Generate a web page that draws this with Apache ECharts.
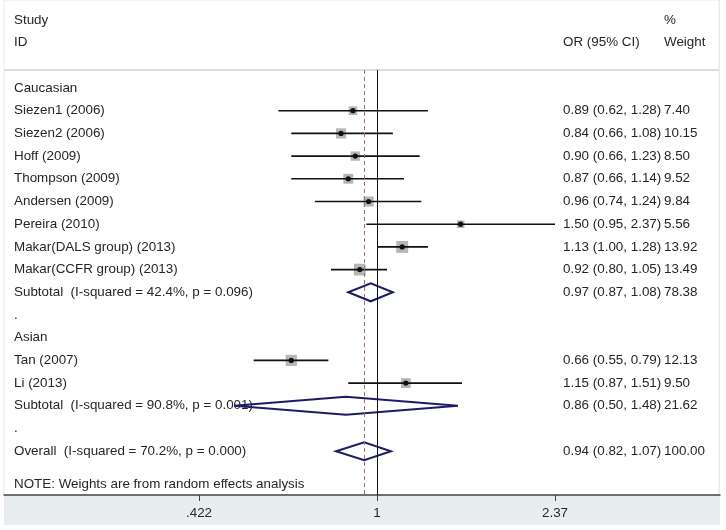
<!DOCTYPE html>
<html><head><meta charset="utf-8">
<script src="https://cdn.jsdelivr.net/npm/echarts@6/dist/echarts.min.js"></script>
<style>html,body{margin:0;padding:0;background:#fff}#c{width:726px;height:530px}</style>
</head><body><div id="c"></div>
<script>
// ---- data ----
const rowLabels = ["Caucasian","Siezen1 (2006)","Siezen2 (2006)","Hoff (2009)","Thompson (2009)","Andersen (2009)","Pereira (2010)","Makar(DALS group) (2013)","Makar(CCFR group) (2013)","Subtotal  (I-squared = 42.4%, p = 0.096)",".","Asian","Tan (2007)","Li (2013)","Subtotal  (I-squared = 90.8%, p = 0.001)",".","Overall  (I-squared = 70.2%, p = 0.000)"];
const studyRows = [1,2,3,4,5,6,7,8,12,13];
const studyOR   = [0.89,0.84,0.90,0.87,0.96,1.50,1.13,0.92,0.66,1.15];
const studyLo   = [0.62,0.66,0.66,0.66,0.74,0.95,1.00,0.80,0.55,0.87];
const studyHi   = [1.28,1.08,1.23,1.14,1.24,2.37,1.28,1.05,0.79,1.51];
const studyW    = [7.40,10.15,8.50,9.52,9.84,5.56,13.92,13.49,12.13,9.50];
const poolRows = [9,14,16];
const poolOR   = [0.97,0.86,0.94];
const poolLo   = [0.87,0.50,0.82];
const poolHi   = [1.08,1.48,1.07];
const poolW    = [78.38,21.62,100.00];
const overallOR = 0.94;
const tickValues = [0.422,1,2.37];
const tickLabels = [".422","1","2.37"];
const headerLeft = ["Study","ID"];
const headerCI = "OR (95% CI)";
const headerW = ["%","Weight"];
const noteText = "NOTE: Weights are from random effects analysis";

// ---- layout ----
const PX_ROW0 = 88, ROWH = 22.7, X_ONE = 377, PX_PER_LN = 206.3;
const GL = 4, GR = 720, GT = 70, GB = 495;
const xMin = (GL - X_ONE)/PX_PER_LN, xMax = (GR - X_ONE)/PX_PER_LN;
const yMin = (GT - PX_ROW0)/ROWH, yMax = (GB - PX_ROW0)/ROWH;
const X_TXT = 14, X_CI = 563, X_W = 664;
const FF = '"Liberation Sans", Arial, sans-serif';
const FONT = '13.4px ' + FF;
const TXTC = '#262626';
const NOTE_ROW = 17.45;

const ln = Math.log;
const studyData = studyOR.map((v,i)=>[ln(v), ln(studyLo[i]), ln(studyHi[i]), studyRows[i], studyW[i]]);
const poolData = poolOR.map((v,i)=>[ln(v), ln(poolLo[i]), ln(poolHi[i]), poolRows[i], poolW[i]]);
const labelData = rowLabels.map((t,i)=>[0,i,t]);
const ciData = studyOR.map((v,i)=>[0,studyRows[i], v.toFixed(2)+" ("+studyLo[i].toFixed(2)+", "+studyHi[i].toFixed(2)+")", studyW[i].toFixed(2)])
  .concat(poolOR.map((v,i)=>[0,poolRows[i], v.toFixed(2)+" ("+poolLo[i].toFixed(2)+", "+poolHi[i].toFixed(2)+")", poolW[i].toFixed(2)]));

function txt(x,y,s){return {type:'text',style:{x:x,y:y,text:s,font:FONT,fill:TXTC,textVerticalAlign:'middle'}};}

const chart = echarts.init(document.getElementById('c'), null, {renderer:'canvas'});
chart.setOption({
  animation:false,
  backgroundColor:'#fff',
  graphic:[
    {type:'rect',shape:{x:4,y:0,width:716,height:525},style:{fill:'#e8eef0'},z:-10,silent:true},
    {type:'rect',shape:{x:4,y:0,width:715,height:495},style:{fill:'#fff',stroke:'#e4e8ea',lineWidth:1},z:-9,silent:true},
    {type:'line',shape:{x1:4,y1:70,x2:719,y2:70},style:{stroke:'#dcdcdc',lineWidth:2},z:-8,silent:true}
  ],
  grid:{left:GL,top:GT,width:GR-GL,height:GB-GT,containLabel:false},
  xAxis:{type:'value',min:xMin,max:xMax,
    splitLine:{show:false},
    axisLine:{show:true,onZero:false,lineStyle:{color:'#444',width:1.5}},
    axisTick:{show:true,length:6,lineStyle:{color:'#444'},customValues:tickValues.map(v=>ln(v))},
    axisLabel:{show:true,customValues:tickValues.map(v=>ln(v)),margin:12,color:TXTC,fontSize:13.4,fontFamily:FF,
      formatter:function(v){let b=0;tickValues.forEach((t,i)=>{if(Math.abs(ln(t)-v)<Math.abs(ln(tickValues[b])-v))b=i;});return tickLabels[b];}}
  },
  yAxis:{type:'value',inverse:true,min:yMin,max:yMax,show:false},
  series:[
    {type:'custom',name:'lines',data:[[0,0]],clip:false,z:1,
      renderItem:function(){return {type:'group',children:[]};},
      markLine:{symbol:'none',silent:true,label:{show:false},
        data:[
          {xAxis:0,lineStyle:{color:'#111',width:1,type:'solid'}},
          {xAxis:ln(overallOR),lineStyle:{color:'#9a7070',width:1,type:[4,3]}}
        ]}
    },
    {type:'custom',name:'studies',data:studyData,clip:false,z:3,
      renderItem:function(p,api){
        const y=api.coord([0,api.value(3)])[1];
        const xm=api.coord([api.value(0),0])[0], xl=api.coord([api.value(1),0])[0], xh=api.coord([api.value(2),0])[0];
        const s=3.2*Math.sqrt(api.value(4));
        return {type:'group',children:[
          {type:'rect',shape:{x:xm-s/2,y:y-s/2,width:s,height:s},style:{fill:'#b6b6b6'}},
          {type:'line',shape:{x1:xl,y1:y,x2:xh,y2:y},style:{stroke:'#111',lineWidth:1.6}},
          {type:'circle',shape:{cx:xm,cy:y,r:2.6},style:{fill:'#111'}}
        ]};
      }},
    {type:'custom',name:'pooled',data:poolData,clip:false,z:4,
      renderItem:function(p,api){
        const y=api.coord([0,api.value(3)])[1];
        const xm=api.coord([api.value(0),0])[0], xl=api.coord([api.value(1),0])[0], xh=api.coord([api.value(2),0])[0];
        const h=9;
        return {type:'polygon',shape:{points:[[xl,y],[xm,y-h],[xh,y],[xm,y+h]]},style:{fill:'none',stroke:'#1c1c66',lineWidth:2}};
      }},
    {type:'custom',name:'labels',data:labelData,clip:false,z:2,
      renderItem:function(p,api){
        const y=api.coord([0,api.value(1)])[1];
        return txt(X_TXT,y,labelData[p.dataIndex][2]);
      }},
    {type:'custom',name:'ci',data:ciData,clip:false,z:2,
      renderItem:function(p,api){
        const y=api.coord([0,api.value(1)])[1];
        const d=ciData[p.dataIndex];
        return {type:'group',children:[txt(X_CI,y,d[2]),txt(X_W,y,d[3])]};
      }},
    {type:'custom',name:'header',data:[[0,-3],[0,-2]],clip:false,z:2,
      renderItem:function(p,api){
        const i=p.dataIndex;
        const y=api.coord([0,api.value(1)])[1];
        const ch=[txt(X_TXT,y,headerLeft[i]),txt(X_W,y,headerW[i])];
        if(i===1) ch.push(txt(X_CI,y,headerCI));
        return {type:'group',children:ch};
      }},
    {type:'custom',name:'note',data:[[0,NOTE_ROW]],clip:false,z:2,
      renderItem:function(p,api){
        const y=api.coord([0,api.value(1)])[1];
        return txt(X_TXT,y,noteText);
      }}
  ]
});
</script></body></html>
